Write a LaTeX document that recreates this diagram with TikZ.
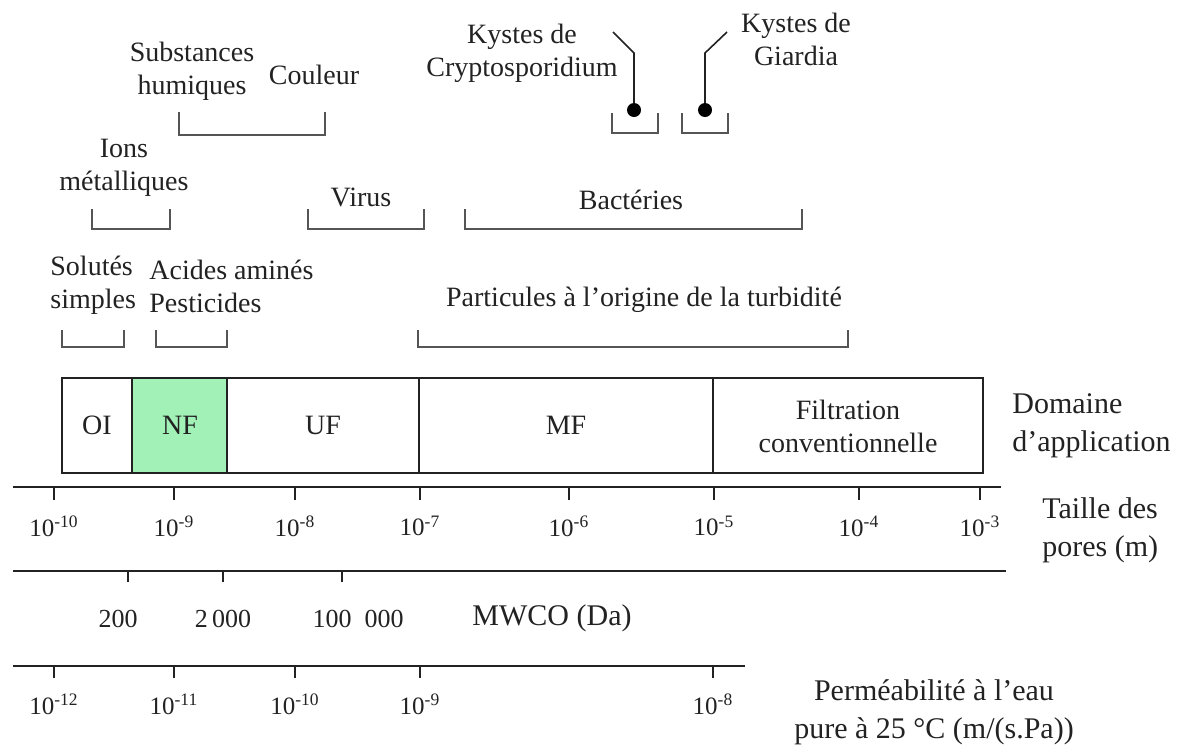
\documentclass[tikz,border=0pt]{standalone}
\usepackage{fontspec}
\setmainfont{Liberation Serif}

\begin{document}
\begin{tikzpicture}[x=0.5pt, y=-0.5pt,
	txt/.style={font=\fontsize{14}{16.5}\selectfont, inner sep=0pt, align=center, text=ink},
	side/.style={font=\fontsize{15}{19}\selectfont, inner sep=0pt, align=left, text=ink},
	num/.style={font=\fontsize{12.5}{14}\selectfont, inner sep=0pt, text=ink},
	bracket/.style={draw=brackgray, line width=1pt},
	axis/.style={draw=ink, line width=1.1pt}]
	\definecolor{ink}{HTML}{222222}
	\definecolor{brackgray}{HTML}{555555}
	\definecolor{nfgreen}{HTML}{A2F2B8}
	\useasboundingbox (0,0) rectangle (1184,745);

	% domaine d'application
	\fill[nfgreen] (132,378) rectangle (227,473);
	\draw[ink, line width=1pt] (62,378) rectangle (983,473);
	\draw[ink, line width=1pt] (132,378) -- (132,473);
	\draw[ink, line width=1pt] (227,378) -- (227,473);
	\draw[ink, line width=1pt] (419,378) -- (419,473);
	\draw[ink, line width=1pt] (713,378) -- (713,473);
	\node[txt] (oi) at (97,425) {OI};
	\node[txt] (nf) at (180,425) {NF};
	\node[txt] (uf) at (323,425) {UF};
	\node[txt] (mf) at (566,425) {MF};
	\node[txt] (conv) at (848,426) {Filtration\\conventionnelle};
	\node[side, anchor=west] (domaine) at (1012,426) {Domaine\\d’application};

	% brackets
	\draw[bracket] (179,112) -- (179,135) -- (325,135) -- (325,112);
	\draw[bracket] (612,113) -- (612,133) -- (658,133) -- (658,113);
	\draw[bracket] (682,113) -- (682,133) -- (728,133) -- (728,113);
	\draw[bracket] (92,209) -- (92,229) -- (170,229) -- (170,209);
	\draw[bracket] (308,209) -- (308,229) -- (424,229) -- (424,209);
	\draw[bracket] (465,209) -- (465,229) -- (802,229) -- (802,209);
	\draw[bracket] (62,330) -- (62,347) -- (124,347) -- (124,330);
	\draw[bracket] (156,330) -- (156,347) -- (227,347) -- (227,330);
	\draw[bracket] (418,330) -- (418,347) -- (848,347) -- (848,330);

	\node[txt] (humiques) at (192,71) {Substances\\humiques};
	\node[txt] (couleur) at (314,75) {Couleur};
	\node[txt] (crypto) at (522,53) {Kystes de\\Cryptosporidium};
	\node[txt] (giardia) at (796,39) {Kystes de\\Giardia};
	\node[txt] (ions) at (124,168) {Ions\\métalliques};
	\node[txt] (virus) at (361,197) {Virus};
	\node[txt] (bact) at (631,200) {Bactéries};
	\node[txt, anchor=west, align=left] (solutes) at (50,285) {Solutés\\simples};
	\node[txt, anchor=west, align=left] (acides) at (149,286) {Acides aminés\\Pesticides};
	\node[txt] (turb) at (644,300) {Particules à l’origine de la turbidité};

	% kystes
	\coordinate (cstart) at (613,32);
	\coordinate (cdot) at (634,110);
	\coordinate (gstart) at (727,32);
	\coordinate (gdot) at (705,110);
	\draw[ink, line width=0.8pt] (cstart) -- (634,53) -- (cdot);
	\draw[ink, line width=0.8pt] (gstart) -- (705,53) -- (gdot);
	\fill[black] (cdot) circle [radius=3.5pt];
	\fill[black] (gdot) circle [radius=3.5pt];

	% taille des pores
	\draw[axis] (13,487) -- (1001,487);
	\foreach \x/\e [count=\i] in {54/-10,174/-9,295/-8,420/-7,569/-6,714/-5,859/-4,980/-3}{
		\draw[axis] (\x,487) -- (\x,500);
		\node[num] (pore\i) at (\x,526) {10\textsuperscript{\e}};
	}
	\node[side, anchor=west] (taille) at (1042,530) {Taille des\\pores (m)};

	% MWCO
	\draw[axis] (13,571) -- (1006,571);
	\foreach \x in {128,223,342}
		\draw[axis] (\x,571) -- (\x,582);
	\node[num, font=\fontsize{13}{15}\selectfont] (m200) at (118,619) {200};
	\node[num, font=\fontsize{13}{15}\selectfont] (m2000) at (223,619) {2\,000};
	\node[num, font=\fontsize{13}{15}\selectfont] (m100000) at (358,619) {100\ \ 000};
	\node[side] (mwco) at (552,618) {MWCO (Da)};

	% permeabilite
	\draw[axis] (13,666) -- (745,666);
	\foreach \x/\e [count=\i] in {54/-12,174/-11,295/-10,420/-9,713/-8}{
		\draw[axis] (\x,666) -- (\x,678);
		\node[num] (perm\i) at (\x,704) {10\textsuperscript{\e}};
	}
	\node[side, align=center] (perm) at (934,712) {Perméabilité à l’eau\\pure à 25 °C (m/(s.Pa))};
\end{tikzpicture}
\end{document}
